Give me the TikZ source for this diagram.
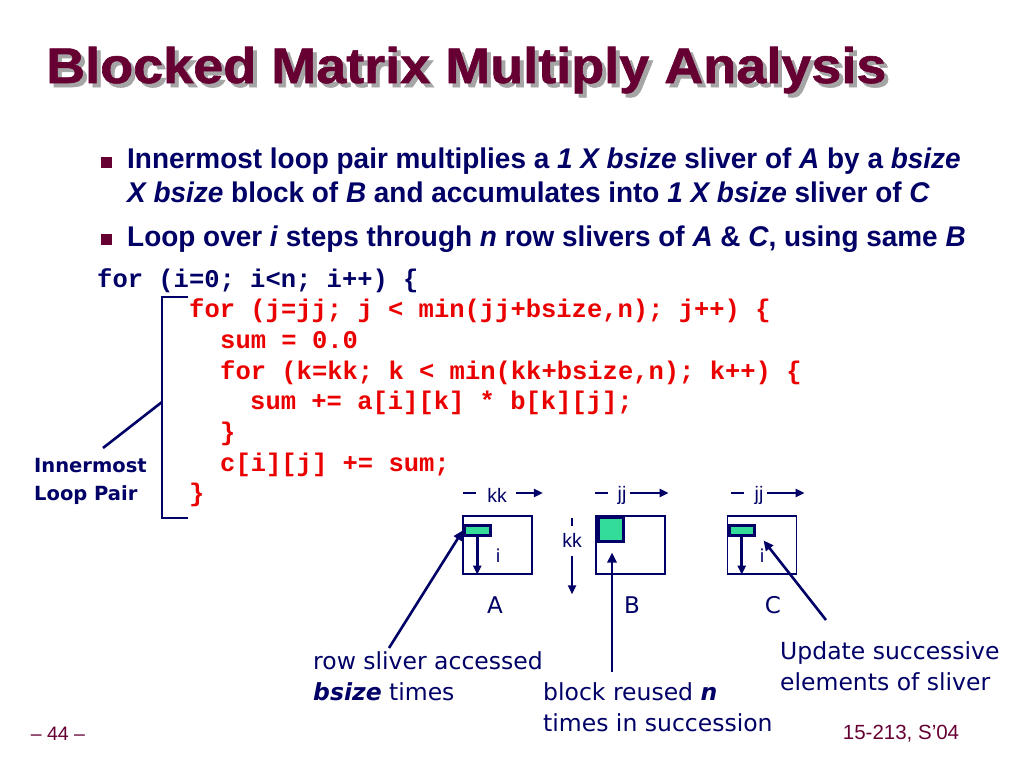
\documentclass[tikz,border=0pt]{standalone}
\usepackage{fontspec}
\setmainfont{Liberation Sans}
\newfontfamily\titlefont[FakeStretch=1.08,FakeBold=1.2]{Liberation Sans}
\newfontfamily\bulletfont[FakeStretch=0.98]{Liberation Sans}
\newfontfamily\codefont{Liberation Mono}
\newfontfamily\handfont{DejaVu Sans}
\usetikzlibrary{arrows.meta}

\definecolor{titlered}{RGB}{102,0,51}
\definecolor{navy}{RGB}{0,0,102}
\definecolor{codered}{RGB}{235,0,0}
\definecolor{sliver}{RGB}{51,221,153}
\definecolor{shadowgrey}{RGB}{165,165,165}

\tikzset{
  txt/.style={inner sep=0pt, anchor=base west},
  code/.style={txt, font=\codefont\bfseries\fontsize{25.5}{30}\selectfont, text=codered},
  bullettxt/.style={txt, font=\bulletfont\bfseries\fontsize{28.5}{31}\selectfont, text=navy},
  hand/.style={inner sep=0pt, text=navy, font=\handfont\fontsize{23.5}{31}\selectfont},
  matbox/.style={draw=navy, line width=1.3pt, minimum width=69pt, minimum height=58pt, inner sep=0pt},
  slv/.style={draw=navy, fill=sliver, line width=2.5pt, inner sep=0pt},
  pointer/.style={draw=navy, line width=2.6pt, -{Triangle[length=10pt,width=9pt]}},
  dimline/.style={draw=navy, line width=2.6pt},
  dimarrow/.style={dimline, -{Triangle[length=9pt,width=8pt]}},
  idx/.style={inner sep=0pt, text=navy, font=\fontsize{19.5}{21}\selectfont}
}

\begin{document}
\begin{tikzpicture}[x=1pt, y=-1pt]
\useasboundingbox[fill=white] (0,0) rectangle (1024,768);

% title with its shadow
\node[txt, text=shadowgrey, font=\titlefont\bfseries\fontsize{50}{56}\selectfont] (shadow) at (50,87) {Blocked Matrix Multiply Analysis};
\node[txt, text=titlered, font=\titlefont\bfseries\fontsize{50}{56}\selectfont] (title) at (46,83) {Blocked Matrix Multiply Analysis};

% bullets
\node[fill=titlered, minimum size=11pt, inner sep=0pt] (sq1) at (106.5,162) {};
\node[fill=titlered, minimum size=11pt, inner sep=0pt] (sq2) at (106.5,239) {};
\node[bullettxt] (b1) at (127,168.5) {Innermost loop pair multiplies a \textit{1 X bsize} sliver of \textit{A} by a \textit{bsize}};
\node[bullettxt] (b2) at (127,202.5) {\textit{X bsize} block of \textit{B} and accumulates into \textit{1 X bsize} sliver of \textit{C}};
\node[bullettxt] (b3) at (127,246) {Loop over \textit{i} steps through \textit{n} row slivers of \textit{A} \& \textit{C}, using same \textit{B}};

% code
\node[code, text=navy] (c1) at (97,287) {for (i=0; i<n; i++) \{};
\node[code] (c2) at (189,317.7) {for (j=jj; j < min(jj+bsize,n); j++) \{};
\node[code] (c3) at (220,348.4) {sum = 0.0};
\node[code] (c4) at (220,379.1) {for (k=kk; k < min(kk+bsize,n); k++) \{};
\node[code] (c5) at (250,409.8) {sum += a[i][k] * b[k][j];};
\node[code] (c6) at (220,440.5) {\}};
\node[code] (c7) at (220,471.2) {c[i][j] += sum;};
\node[code] (c8) at (189,501.9) {\}};

% bracket round the innermost loop pair
\draw[navy, line width=2.6pt] (188,297) -- (162,297) -- (162,518) -- (188,518);
\node[hand, font=\handfont\bfseries\fontsize{19.5}{28}\selectfont, align=left, anchor=north west] (loop) at (34,458) {Innermost\\Loop Pair};
\coordinate (lt) at (103,448);
\coordinate (lb) at (162,402);
\draw[dimline] (lt) -- (lb);

% matrices
\node[matbox] (mA) at (497.5,545) {};
\node[matbox] (mB) at (630.5,545) {};
\node[matbox] (mC) at (762,545) {};
\node[slv, minimum width=26pt, minimum height=10pt, anchor=north west] (slA) at (463,524) {};
\node[slv, minimum width=25pt, minimum height=24pt, anchor=north west] (blkB) at (597,516) {};
\node[slv, minimum width=25pt, minimum height=10pt, anchor=north west] (slC) at (728,524) {};
\draw[dimarrow] (slA.south) -- (slA.south |- mA.south);
\draw[dimarrow] (slC.south) -- (slC.south |- mC.south);
\node[idx, font=\handfont\fontsize{18}{20}\selectfont] (iA) at (498,556) {i};
\node[idx, font=\handfont\fontsize{18}{20}\selectfont] (iC) at (762,556) {i};
\node[hand, font=\handfont\fontsize{23}{26}\selectfont] (nA) at (495,605) {A};
\node[hand, font=\handfont\fontsize{23}{26}\selectfont] (nB) at (632,605) {B};
\node[hand, font=\handfont\fontsize{23}{26}\selectfont] (nC) at (773,605) {C};

% block extents
\node[idx] (kkA) at (497,495) {kk};
\draw[dimline] (kkA.west) ++(-11,-2) -- ++(-13,0);
\draw[dimarrow] (kkA.east) ++(9,-2) -- ++(27,0);
\node[idx] (jjB) at (622,495) {jj};
\draw[dimline] (jjB.west) ++(-9,-2) -- ++(-13,0);
\draw[dimarrow] (jjB.east) ++(3,-2) -- ++(39,0);
\node[idx] (jjC) at (759,495) {jj};
\draw[dimline] (jjC.west) ++(-10,-2) -- ++(-13,0);
\draw[dimarrow] (jjC.east) ++(3,-2) -- ++(38,0);
\node[idx] (kkB) at (572,540) {kk};
\draw[dimline] (kkB.north) ++(0,-7) -- ++(0,-8);
\draw[dimarrow] (kkB.south) ++(0,9) -- ++(0,38);

% remarks
\node[hand, align=left, anchor=north west] (rowLbl) at (313,651) {row sliver accessed\\\textbf{\textit{bsize}} times};
\node[hand, align=left, anchor=north west] (blkLbl) at (543,682) {block reused \textbf{\textit{n}}\\times in succession};
\node[hand, align=left, anchor=north west] (updLbl) at (780,641) {Update successive\\elements of sliver};
\coordinate (tA) at (389,648);
\coordinate (tB) at (612,672);
\coordinate (tC) at (826,620);
\draw[pointer] (tA) -- (slA.west);
\draw[pointer, shorten >=10pt] (tB) -- (tB |- blkB.south);
\draw[pointer, shorten >=13pt] (tC) -- (slC.east);

% footer
\node[text=titlered, font=\fontsize{19.5}{22}\selectfont] (page) at (58,734) {– 44 –};
\node[text=titlered, font=\fontsize{20.5}{22}\selectfont] (course) at (901,734) {15-213, S’04};
\end{tikzpicture}
\end{document}
